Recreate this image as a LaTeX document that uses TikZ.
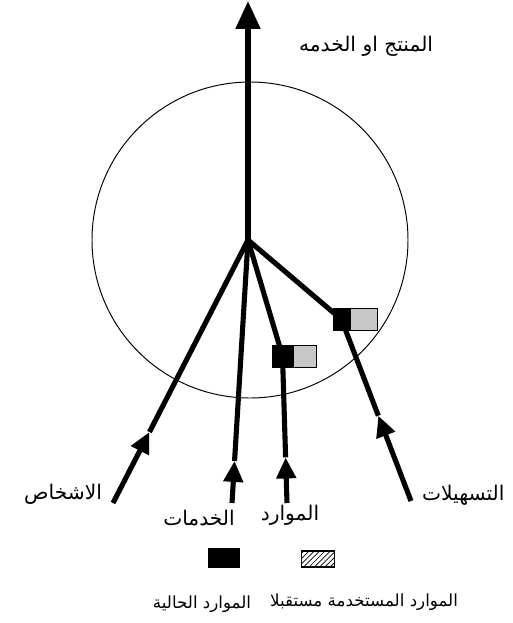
\documentclass[tikz,border=0pt]{standalone}
\usepackage{fontspec}
\usetikzlibrary{arrows.meta,calc,positioning,patterns}
\newfontfamily\arabicfont[Script=Arabic]{DejaVu Sans}
\TeXXeTstate=1
\tikzset{
    main line/.style={line width=2.9pt, -{Triangle[length=5.6mm,width=4.8mm]}},
    branch/.style={line width=2.9pt},
    branch head/.style={line width=2.9pt, -{Triangle[length=4.2mm,width=3.8mm]}},
    ring/.style={line width=0.55pt},
    current box/.style={draw=black, fill=black, line width=0.5pt,
                        minimum width=4.2mm, minimum height=4.4mm, inner sep=0pt},
    future box/.style={draw=black, fill=black!22, line width=0.5pt,
                       minimum width=4.6mm, minimum height=4.4mm, inner sep=0pt},
    legend future/.style={draw=black, line width=0.8pt, pattern=north east lines,
                          minimum width=6.6mm, minimum height=3.2mm, inner sep=0pt},
    legend current/.style={fill=black, minimum width=6.6mm, minimum height=4mm,
                           inner sep=0pt},
    ar label/.style={font=\arabicfont\fontsize{11.5}{13}\selectfont, inner sep=1pt},
    key label/.style={font=\arabicfont\fontsize{9.5}{11}\selectfont, inner sep=1pt},
}
\newcommand{\ar}[1]{\beginR #1\endR}

\begin{document}
\begin{tikzpicture}[x=0.02cm, y=-0.02cm]
\useasboundingbox (0,0) rectangle (513,623);

% centre of the fan and the circle round it
\coordinate (J) at (248,240);
\coordinate (T) at (248,1);
\draw[ring] (250,240) circle (158);

% product / service
\draw[main line] (J) -- (T);
\node[ar label] (product) at (366,46) {\ar{المنتج او الخدمه}};

% the four inputs
\coordinate (e1) at (113,503);
\coordinate (e2) at (232,503);
\coordinate (e3) at (287,503);
\coordinate (e4) at (411,501);
\coordinate (b1) at (282.5,356);
\coordinate (b2) at (341.5,319.5);

\coordinate (a1) at ($(e1)!0.27!(J)$);
\coordinate (a2) at ($(e2)!0.16!(J)$);
\coordinate (a3) at ($(e3)!0.31!(b1)$);
\coordinate (a4) at ($(e4)!0.47!(b2)$);

\draw[branch head] (e1) -- (a1);
\draw[branch] (a1) -- (J);
\draw[branch head] (e2) -- (a2);
\draw[branch] (a2) -- (J);
\draw[branch head] (e3) -- (a3);
\draw[branch] (a3) -- (b1) -- (J);
\draw[branch head] (e4) -- (a4);
\draw[branch] (a4) -- (b2) -- (J);

% resource boxes on two of the inputs
\node[current box] (b1cur) at (b1) {};
\node[future box, right=0pt of b1cur] (b1fut) {};
\node[current box, minimum width=3.4mm] (b2cur) at (b2) {};
\node[future box, minimum width=5.4mm, right=0pt of b2cur] (b2fut) {};

% input labels
\node[ar label, anchor=east] (people) at (104,494) {\ar{الاشخاص}};
\node[ar label] (services) at (199,518) {\ar{الخدمات}};
\node[ar label] (resources) at (290,515) {\ar{الموارد}};
\node[ar label, anchor=west] (facilities) at (420,495) {\ar{التسهيلات}};

% legend
\node[legend current] (key cur) at (224,558) {};
\node[legend future] (key fut) at (318,559) {};
\node[key label] (key cur text) at (202,604) {\ar{الموارد الحالية}};
\node[key label] (key fut text) at (364,602) {\ar{الموارد المستخدمة مستقبلا}};
\end{tikzpicture}
\end{document}
